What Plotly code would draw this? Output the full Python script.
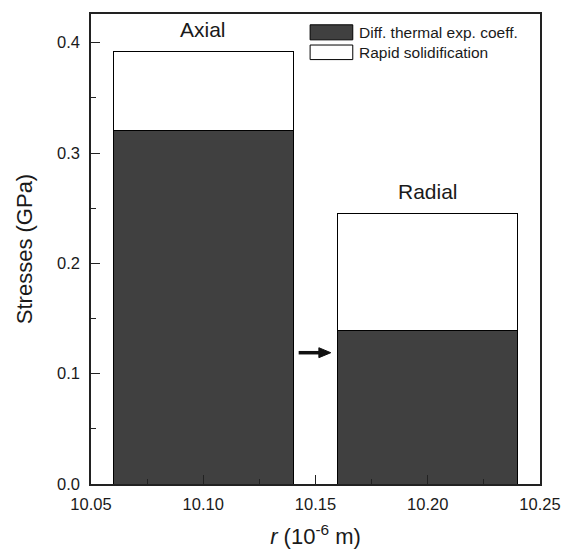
import plotly.graph_objects as go

# Data
groups = ["Axial", "Radial"]
r_pos = [10.10, 10.20]
bar_width = 0.08
diff_thermal = [0.320, 0.139]
rapid_solid = [0.072, 0.106]   # increments on top (totals 0.392, 0.245)
series_names = ["Diff. thermal exp. coeff.", "Rapid solidification"]
x_ticks = [10.05, 10.10, 10.15, 10.20, 10.25]
y_ticks = [0.0, 0.1, 0.2, 0.3, 0.4]

DARK = "#404040"
FONT = "Liberation Sans, Arial, Helvetica, sans-serif"
TXT = "#1a1a1a"

fig = go.Figure()
fig.add_trace(go.Bar(x=r_pos, y=diff_thermal, width=bar_width, name=series_names[0],
                     marker=dict(color=DARK, line=dict(color="black", width=1)),
                     showlegend=False))
fig.add_trace(go.Bar(x=r_pos, y=rapid_solid, width=bar_width, name=series_names[1],
                     marker=dict(color="white", line=dict(color="black", width=1)),
                     showlegend=False))

totals = [a + b for a, b in zip(diff_thermal, rapid_solid)]
for g, xp, t in zip(groups, r_pos, totals):
    fig.add_annotation(x=xp, y=t, text=g, showarrow=False, yanchor="middle", yshift=22,
                       font=dict(size=21, color=TXT, family=FONT))

# arrow (line + head drawn as shapes)
arrow_y = 0.119
fig.add_shape(type="line", xref="x", yref="y", x0=10.1425, x1=10.1525, y0=arrow_y, y1=arrow_y,
              line=dict(color="#111", width=3.5))
fig.add_shape(type="path", xref="x", yref="y",
              path=f"M 10.1515 {arrow_y + 0.0045} L 10.1568 {arrow_y} L 10.1515 {arrow_y - 0.0045} Z",
              fillcolor="#111", line=dict(color="#111", width=1))

# manual legend
legend_items = [(series_names[0], DARK, 0.977, 0.945), (series_names[1], "white", 0.934, 0.903)]
for name, col, y1, y0 in legend_items:
    fig.add_shape(type="rect", xref="paper", yref="paper", x0=0.488, x1=0.583, y0=y0, y1=y1,
                  fillcolor=col, line=dict(color="black", width=1))
    fig.add_annotation(xref="paper", yref="paper", x=0.593, y=(y0 + y1) / 2, text=name,
                       showarrow=False, xanchor="left", yanchor="middle",
                       font=dict(size=15.5, color=TXT, family=FONT))

fig.update_layout(
    width=574, height=557, barmode="stack",
    margin=dict(l=91, r=34, t=12, b=72),
    plot_bgcolor="white", paper_bgcolor="white",
    font=dict(family=FONT, size=16.5, color=TXT),
    xaxis=dict(range=[10.05, 10.25], tickvals=x_ticks, ticktext=[f"{v:.2f}" for v in x_ticks],
               ticks="inside", ticklen=9, tickwidth=1, tickcolor="#222", ticklabelstandoff=4,
               minor=dict(ticks="inside", ticklen=5, dtick=0.025, tick0=10.05, tickcolor="#222"),
               showline=True, linecolor="#222", linewidth=1.5, mirror=True, showgrid=False,
               zeroline=False, title=dict(text="<i>r</i> (10<sup>-6</sup> m)", standoff=17,
                                          font=dict(size=22))),
    yaxis=dict(range=[0, 0.426], tickvals=y_ticks, ticktext=[f"{v:.1f}" for v in y_ticks],
               ticks="inside", ticklen=9, tickwidth=1, tickcolor="#222", ticklabelstandoff=6,
               minor=dict(ticks="inside", ticklen=5, dtick=0.05, tick0=0, tickcolor="#222"),
               showline=True, linecolor="#222", linewidth=1.5, mirror=True, showgrid=False,
               zeroline=False, title=dict(text="Stresses (GPa)", standoff=18, font=dict(size=22))),
)

fig.write_html("out.html")
